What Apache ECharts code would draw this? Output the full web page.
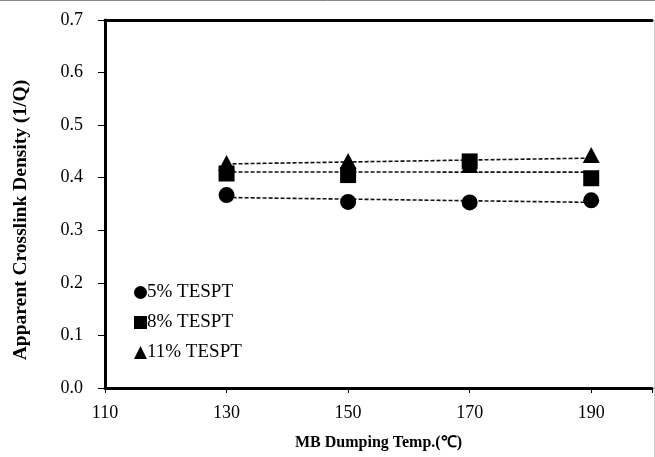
<!DOCTYPE html>
<html><head><meta charset="utf-8">
<script src="https://cdn.jsdelivr.net/npm/echarts@6/dist/echarts.min.js"></script>
<style>html,body{margin:0;padding:0;background:#fff}#c{width:655px;height:457px}</style>
</head><body><div id="c"></div>
<script>
const temps = [130, 150, 170, 190];
const tespt5 = [0.367, 0.354, 0.353, 0.357];
const tespt8 = [0.408, 0.405, 0.431, 0.399];
const tespt11 = [0.428, 0.432, 0.424, 0.443];
const seriesNames = ['5% TESPT', '8% TESPT', '11% TESPT'];
const symbols = ['circle', 'rect', 'triangle'];
const xTicks = [110, 130, 150, 170, 190];

function fit(xs, ys) {
  const n = xs.length;
  const mx = xs.reduce((a, b) => a + b, 0) / n;
  const my = ys.reduce((a, b) => a + b, 0) / n;
  let sxy = 0, sxx = 0;
  for (let i = 0; i < n; i++) { sxy += (xs[i] - mx) * (ys[i] - my); sxx += (xs[i] - mx) ** 2; }
  const b = sxy / sxx, a = my - b * mx;
  return [[xs[0], a + b * xs[0]], [xs[n - 1], a + b * xs[n - 1]]];
}

const all = [tespt5, tespt8, tespt11];
const font = '"Liberation Serif", "Times New Roman", serif';
const series = [];
all.forEach((vals, i) => {
  series.push({
    type: 'line', data: fit(temps, vals), symbol: 'none', silent: true,
    lineStyle: { color: '#111', width: 1.6, type: [4, 2] }, z: 1
  });
});
all.forEach((vals, i) => {
  series.push({
    name: seriesNames[i], type: 'scatter', symbol: symbols[i],
    symbolSize: i === 2 ? [17, 16] : 16,
    data: temps.map((t, j) => [t, vals[j]]),
    itemStyle: { color: '#000', opacity: 1 }, z: 3
  });
});

const chart = echarts.init(document.getElementById('c'));
chart.setOption({
  animation: false,
  backgroundColor: '#fff',
  grid: { left: 105, right: 3, top: 20, bottom: 69 },
  legend: {
    orient: 'vertical', left: 129, top: 278, itemGap: 11,
    itemWidth: 13, itemHeight: 13,
    data: seriesNames.map((n, i) => ({ name: n, icon: symbols[i], itemStyle: { color: '#000', opacity: 1 } })),
    textStyle: { fontFamily: font, fontSize: 19, color: '#000', padding: [0, 0, 0, -5] }
  },
  xAxis: [{
    type: 'value', min: 110, max: 200, interval: 20,
    axisLine: { lineStyle: { color: '#000', width: 3 } },
    axisTick: { show: true, length: 5, lineStyle: { color: '#000', width: 1 } },
    axisLabel: { fontFamily: font, fontSize: 18, color: '#000', margin: 16,
      formatter: v => xTicks.includes(v) ? String(v) : '' },
    splitLine: { show: false },
    name: 'MB Dumping Temp.(℃)', nameLocation: 'middle', nameGap: 47,
    nameTextStyle: { fontFamily: font, fontSize: 16, fontWeight: 'bold', color: '#000' }
  }, {
    type: 'value', position: 'top', min: 110, max: 200,
    axisLine: { show: true, lineStyle: { color: '#000', width: 3 } },
    axisTick: { show: false }, axisLabel: { show: false }, splitLine: { show: false }
  }],
  yAxis: {
    type: 'value', min: 0, max: 0.7, interval: 0.1,
    axisLine: { show: true, lineStyle: { color: '#000', width: 3 } },
    axisTick: { show: true, length: 7, lineStyle: { color: '#000', width: 1 } },
    axisLabel: { fontFamily: font, fontSize: 18, color: '#000', margin: 22, formatter: v => v.toFixed(1) },
    splitLine: { show: false }
  },
  graphic: [
    { type: 'line', shape: { x1: 0, y1: 0.5, x2: 655, y2: 0.5 }, style: { stroke: '#888', lineWidth: 1 } },
    { type: 'line', shape: { x1: 654.5, y1: 20, x2: 654.5, y2: 457 }, style: { stroke: '#ccc', lineWidth: 1 } },
    { type: 'text', x: 21, y: 220, rotation: Math.PI / 2,
      style: { text: 'Apparent Crosslink Density (1/Q)', fontFamily: font, fontSize: 19.5, fontWeight: 'bold',
        fill: '#000', align: 'center', verticalAlign: 'middle' } }
  ],
  series
});
</script></body></html>
